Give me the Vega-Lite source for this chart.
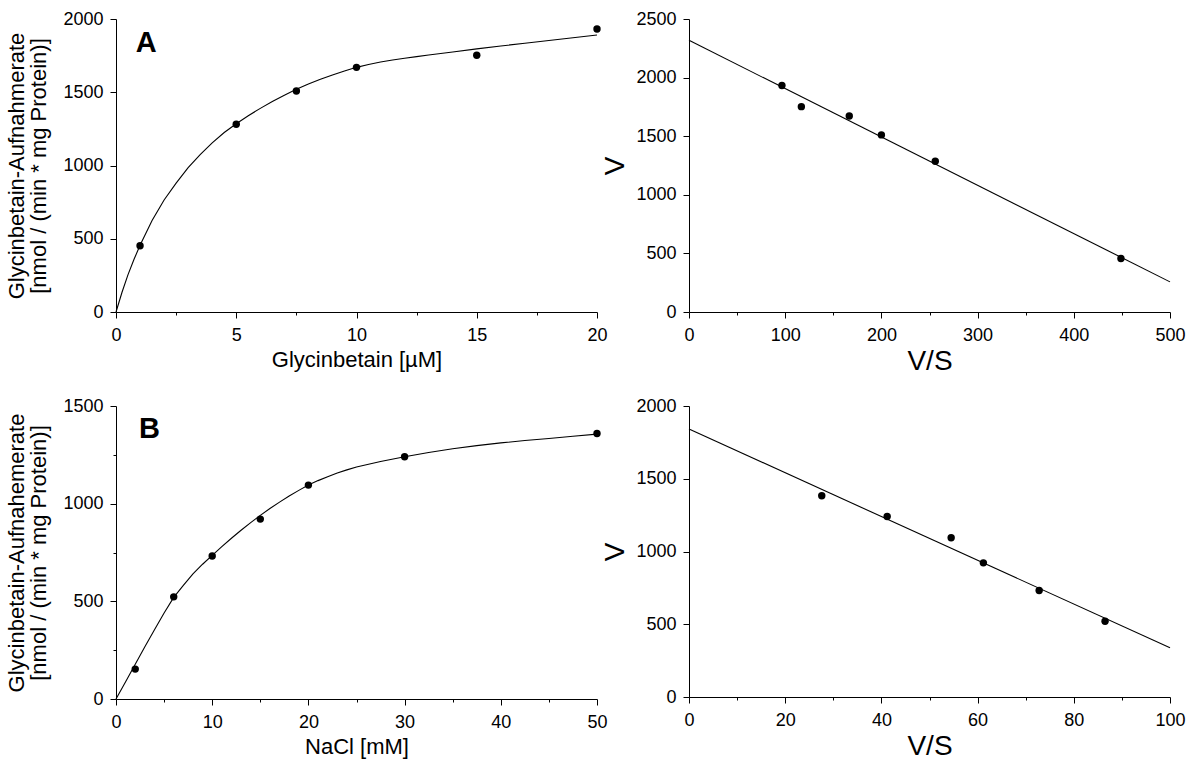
{
  "$schema": "https://vega.github.io/schema/vega-lite/v6.json",
  "background": "white",
  "padding": {"left": 5, "top": 10, "right": 5, "bottom": 5},
  "columns": 2,
  "spacing": {"row": 94, "column": 92},
  "bounds": "flush",
  "datasets": {
    "curveA": [
      {"S": 0, "V": 0}, {"S": 0.25, "V": 135}, {"S": 0.5, "V": 255}, {"S": 0.75, "V": 360},
      {"S": 1, "V": 455}, {"S": 1.5, "V": 625}, {"S": 2, "V": 765}, {"S": 2.5, "V": 880},
      {"S": 3, "V": 985}, {"S": 3.5, "V": 1075}, {"S": 4, "V": 1155}, {"S": 4.5, "V": 1225},
      {"S": 5, "V": 1285}, {"S": 5.5, "V": 1340}, {"S": 6, "V": 1390}, {"S": 6.5, "V": 1437},
      {"S": 7, "V": 1480}, {"S": 7.5, "V": 1520}, {"S": 8, "V": 1556}, {"S": 8.5, "V": 1588},
      {"S": 9, "V": 1618}, {"S": 9.5, "V": 1645}, {"S": 10, "V": 1670}, {"S": 10.5, "V": 1690},
      {"S": 11, "V": 1706}, {"S": 11.5, "V": 1720}, {"S": 12, "V": 1732}, {"S": 12.5, "V": 1743},
      {"S": 13, "V": 1754}, {"S": 14, "V": 1775}, {"S": 15, "V": 1796}, {"S": 16, "V": 1816},
      {"S": 17, "V": 1834}, {"S": 18, "V": 1853}, {"S": 19, "V": 1872}, {"S": 20, "V": 1891}
    ],
    "pointsA": [
      {"S": 1, "V": 452}, {"S": 5, "V": 1282}, {"S": 7.5, "V": 1508},
      {"S": 10, "V": 1670}, {"S": 15, "V": 1752}, {"S": 20, "V": 1932}
    ],
    "labelA": [{"S": 1.26, "V": 1777, "label": "A"}],
    "lineA2": [{"VS": 0, "V": 2318}, {"VS": 500, "V": 257}],
    "pointsA2": [
      {"VS": 96.6, "V": 1932}, {"VS": 116.8, "V": 1752}, {"VS": 166.6, "V": 1673},
      {"VS": 200, "V": 1511}, {"VS": 256, "V": 1286}, {"VS": 449, "V": 456}
    ],
    "curveB": [
      {"S": 0, "V": 0}, {"S": 1, "V": 88}, {"S": 2, "V": 178}, {"S": 3, "V": 268},
      {"S": 4, "V": 355}, {"S": 5, "V": 440}, {"S": 6, "V": 520}, {"S": 7, "V": 582},
      {"S": 8, "V": 640}, {"S": 9, "V": 690}, {"S": 10, "V": 735}, {"S": 11, "V": 780},
      {"S": 12, "V": 823}, {"S": 13, "V": 864}, {"S": 14, "V": 903}, {"S": 15, "V": 940},
      {"S": 16, "V": 975}, {"S": 17, "V": 1008}, {"S": 18, "V": 1039}, {"S": 19, "V": 1068},
      {"S": 20, "V": 1095}, {"S": 21, "V": 1118}, {"S": 22, "V": 1138}, {"S": 23, "V": 1157},
      {"S": 24, "V": 1173}, {"S": 25, "V": 1188}, {"S": 27.5, "V": 1216}, {"S": 30, "V": 1240},
      {"S": 32.5, "V": 1262}, {"S": 35, "V": 1281}, {"S": 37.5, "V": 1297}, {"S": 40, "V": 1311},
      {"S": 42.5, "V": 1323}, {"S": 45, "V": 1334}, {"S": 47.5, "V": 1345}, {"S": 50, "V": 1356}
    ],
    "pointsB": [
      {"S": 2, "V": 153}, {"S": 6, "V": 523}, {"S": 10, "V": 732}, {"S": 15, "V": 921},
      {"S": 20, "V": 1095}, {"S": 30, "V": 1240}, {"S": 50, "V": 1359}
    ],
    "labelB": [{"S": 3.48, "V": 1337, "label": "B"}],
    "lineB2": [{"VS": 0, "V": 1842}, {"VS": 100, "V": 338}],
    "pointsB2": [
      {"VS": 27.6, "V": 1383}, {"VS": 41.2, "V": 1240}, {"VS": 54.5, "V": 1094},
      {"VS": 61.2, "V": 922}, {"VS": 72.8, "V": 732}, {"VS": 86.5, "V": 521}
    ]
  },
  "concat": [
    {
      "width": 481,
      "height": 293,
      "layer": [
        {
          "data": {"name": "curveA"},
          "mark": {"type": "line", "color": "black", "strokeWidth": 1.1},
          "encoding": {
            "x": {"field": "S", "type": "quantitative", "scale": {"domain": [0, 20], "nice": false},
              "axis": {"title": "Glycinbetain [µM]", "values": [0, 2.5, 5, 7.5, 10, 12.5, 15, 17.5, 20],
                "labelExpr": "datum.value % 5 === 0 ? datum.label : ''",
                "tickSize": {"condition": {"test": "datum.value % 5 !== 0", "value": 3}, "value": 6}}},
            "y": {"field": "V", "type": "quantitative", "scale": {"domain": [0, 2000], "nice": false},
              "axis": {"title": ["Glycinbetain-Aufnahmerate", "[nmol / (min * mg Protein)]"], "titlePadding": 12,
                "values": [0, 250, 500, 750, 1000, 1250, 1500, 1750, 2000], "format": "d",
                "labelExpr": "datum.value % 500 === 0 ? datum.label : ''",
                "tickSize": {"condition": {"test": "datum.value % 500 !== 0", "value": 3}, "value": 6}}}
          }
        },
        {
          "data": {"name": "pointsA"},
          "mark": {"type": "circle", "color": "black", "size": 55, "opacity": 1},
          "encoding": {
            "x": {"field": "S", "type": "quantitative", "scale": {"domain": [0, 20], "nice": false}},
            "y": {"field": "V", "type": "quantitative", "scale": {"domain": [0, 2000], "nice": false}}
          }
        },
        {
          "data": {"name": "labelA"},
          "mark": {"type": "text", "font": "Liberation Sans", "fontSize": 29, "fontWeight": "bold", "align": "center", "baseline": "alphabetic", "color": "black"},
          "encoding": {
            "x": {"field": "S", "type": "quantitative", "scale": {"domain": [0, 20], "nice": false}},
            "y": {"field": "V", "type": "quantitative", "scale": {"domain": [0, 2000], "nice": false}},
            "text": {"field": "label"}
          }
        }
      ]
    },
    {
      "width": 481,
      "height": 293,
      "layer": [
        {
          "data": {"name": "lineA2"},
          "mark": {"type": "line", "color": "black", "strokeWidth": 1.1},
          "encoding": {
            "x": {"field": "VS", "type": "quantitative", "scale": {"domain": [0, 500], "nice": false},
              "axis": {"title": "V/S", "titleFontSize": 28, "titlePadding": 3, "values": [0, 50, 100, 150, 200, 250, 300, 350, 400, 450, 500],
                "labelExpr": "datum.value % 100 === 0 ? datum.label : ''",
                "tickSize": {"condition": {"test": "datum.value % 100 !== 0", "value": 3}, "value": 6}}},
            "y": {"field": "V", "type": "quantitative", "scale": {"domain": [0, 2500], "nice": false},
              "axis": {"title": "V", "titleFontSize": 28, "titlePadding": 6,
                "values": [0, 250, 500, 750, 1000, 1250, 1500, 1750, 2000, 2250, 2500], "format": "d",
                "labelExpr": "datum.value % 500 === 0 ? datum.label : ''",
                "tickSize": {"condition": {"test": "datum.value % 500 !== 0", "value": 3}, "value": 6}}}
          }
        },
        {
          "data": {"name": "pointsA2"},
          "mark": {"type": "circle", "color": "black", "size": 55, "opacity": 1},
          "encoding": {
            "x": {"field": "VS", "type": "quantitative", "scale": {"domain": [0, 500], "nice": false}},
            "y": {"field": "V", "type": "quantitative", "scale": {"domain": [0, 2500], "nice": false}}
          }
        }
      ]
    },
    {
      "width": 481,
      "height": 293,
      "layer": [
        {
          "data": {"name": "curveB"},
          "mark": {"type": "line", "color": "black", "strokeWidth": 1.1},
          "encoding": {
            "x": {"field": "S", "type": "quantitative", "scale": {"domain": [0, 50], "nice": false},
              "axis": {"title": "NaCl [mM]", "values": [0, 5, 10, 15, 20, 25, 30, 35, 40, 45, 50],
                "labelExpr": "datum.value % 10 === 0 ? datum.label : ''",
                "tickSize": {"condition": {"test": "datum.value % 10 !== 0", "value": 3}, "value": 6}}},
            "y": {"field": "V", "type": "quantitative", "scale": {"domain": [0, 1500], "nice": false},
              "axis": {"title": ["Glycinbetain-Aufnahemerate", "[nmol / (min * mg Protein)]"], "titlePadding": 12,
                "values": [0, 250, 500, 750, 1000, 1250, 1500], "format": "d",
                "labelExpr": "datum.value % 500 === 0 ? datum.label : ''",
                "tickSize": {"condition": {"test": "datum.value % 500 !== 0", "value": 3}, "value": 6}}}
          }
        },
        {
          "data": {"name": "pointsB"},
          "mark": {"type": "circle", "color": "black", "size": 55, "opacity": 1},
          "encoding": {
            "x": {"field": "S", "type": "quantitative", "scale": {"domain": [0, 50], "nice": false}},
            "y": {"field": "V", "type": "quantitative", "scale": {"domain": [0, 1500], "nice": false}}
          }
        },
        {
          "data": {"name": "labelB"},
          "mark": {"type": "text", "font": "Liberation Sans", "fontSize": 29, "fontWeight": "bold", "align": "center", "baseline": "alphabetic", "color": "black"},
          "encoding": {
            "x": {"field": "S", "type": "quantitative", "scale": {"domain": [0, 50], "nice": false}},
            "y": {"field": "V", "type": "quantitative", "scale": {"domain": [0, 1500], "nice": false}},
            "text": {"field": "label"}
          }
        }
      ]
    },
    {
      "width": 481,
      "height": 291,
      "layer": [
        {
          "data": {"name": "lineB2"},
          "mark": {"type": "line", "color": "black", "strokeWidth": 1.1},
          "encoding": {
            "x": {"field": "VS", "type": "quantitative", "scale": {"domain": [0, 100], "nice": false},
              "axis": {"title": "V/S", "titleFontSize": 28, "titlePadding": 3, "values": [0, 10, 20, 30, 40, 50, 60, 70, 80, 90, 100],
                "labelExpr": "datum.value % 20 === 0 ? datum.label : ''",
                "tickSize": {"condition": {"test": "datum.value % 20 !== 0", "value": 3}, "value": 6}}},
            "y": {"field": "V", "type": "quantitative", "scale": {"domain": [0, 2000], "nice": false},
              "axis": {"title": "V", "titleFontSize": 28, "titlePadding": 6,
                "values": [0, 250, 500, 750, 1000, 1250, 1500, 1750, 2000], "format": "d",
                "labelExpr": "datum.value % 500 === 0 ? datum.label : ''",
                "tickSize": {"condition": {"test": "datum.value % 500 !== 0", "value": 3}, "value": 6}}}
          }
        },
        {
          "data": {"name": "pointsB2"},
          "mark": {"type": "circle", "color": "black", "size": 55, "opacity": 1},
          "encoding": {
            "x": {"field": "VS", "type": "quantitative", "scale": {"domain": [0, 100], "nice": false}},
            "y": {"field": "V", "type": "quantitative", "scale": {"domain": [0, 2000], "nice": false}}
          }
        }
      ]
    }
  ],
  "config": {
    "font": "Liberation Sans",
    "view": {"stroke": null},
    "axis": {
      "grid": false,
      "domainColor": "#000000",
      "domainWidth": 1,
      "tickColor": "#000000",
      "tickWidth": 1,
      "labelColor": "#000000",
      "titleColor": "#000000",
      "labelFont": "Liberation Sans",
      "titleFont": "Liberation Sans",
      "labelFontSize": 18,
      "titleFontSize": 22,
      "titleFontWeight": "normal",
      "titleLineHeight": 22,
      "labelFlush": false,
      "labelOverlap": false
    },
    "axisX": {"titlePadding": 5, "labelPadding": 8},
    "axisY": {"titlePadding": 10, "labelPadding": 7}
  }
}
